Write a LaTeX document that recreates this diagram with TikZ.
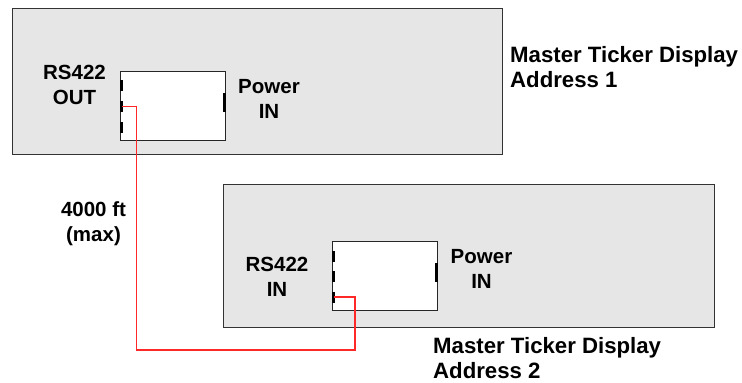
\documentclass[tikz,border=0pt]{standalone}
\usepackage{fontspec}
\setmainfont{Liberation Sans}
\usetikzlibrary{calc}
\definecolor{panelgray}{RGB}{230,230,230}
\definecolor{cablered}{RGB}{255,40,40}

\begin{document}
\begin{tikzpicture}[x=1pt, y=-1pt,
    panel/.style={draw=black!80, fill=panelgray, line width=1.3pt, inner sep=0pt, anchor=north west},
    jack/.style={draw=black!85, fill=white, line width=1.3pt, inner sep=0pt, anchor=north west, minimum width=105pt, minimum height=69pt},
    portbar/.style={fill=black, inner sep=0pt, minimum width=3pt, minimum height=11pt},
    pwrbar/.style={fill=black, inner sep=0pt, minimum width=3pt, minimum height=19pt},
    cable/.style={draw=cablered, line width=1.3pt},
    lbl/.style={inner sep=0pt, align=center, anchor=north, font=\bfseries\fontsize{20.5}{25}\selectfont},
    title/.style={inner sep=0pt, align=left, anchor=north west, font=\bfseries\fontsize{22.2}{25}\selectfont}]
    \useasboundingbox (0,0) rectangle (742,383);
    % first display
    \node[panel, minimum width=490pt, minimum height=146pt] (dispA) at (12,8) {};
    \node[jack] (jackA) at (120,71) {};
    \foreach \dy/\n in {14/1, 35.5/2, 56/3}
        \node[portbar] (txA\n) at ($(jackA.north west)+(1.5,\dy)$) {};
    \node[pwrbar] (pwrA) at ($(jackA.north east)+(-1.5,31.5)$) {};
    \node[lbl] (outA) at (74.5,64.5) {RS422\\OUT};
    \node[lbl] (pinA) at (269,79.5) {Power\\IN};
    \node[title] (nameA) at (510,46.5) {Master Ticker Display\\Address 1};
    % second display
    \node[panel, minimum width=491pt, minimum height=143pt] (dispB) at (223,184) {};
    \node[jack] (jackB) at (332,241) {};
    \foreach \dy/\n in {15/1, 35.5/2, 56/3}
        \node[portbar] (rxB\n) at ($(jackB.north west)+(1.5,\dy)$) {};
    \node[pwrbar] (pwrB) at ($(jackB.north east)+(-1.5,31.5)$) {};
    \node[lbl] (inB) at (277,256.5) {RS422\\IN};
    \node[lbl] (pinB) at (481.5,249.5) {Power\\IN};
    \node[title] (nameB) at (433,337) {Master Ticker Display\\Address 2};
    % cable
    \node[lbl] (len) at (93.5,201.5) {4000 ft\\(max)};
    \coordinate (bendA) at (136.5,350);
    \coordinate (bendB) at (355,350);
    \draw[cable] (txA2.center) -| (bendA) -- (bendB) |- (rxB3.center);
\end{tikzpicture}
\end{document}
